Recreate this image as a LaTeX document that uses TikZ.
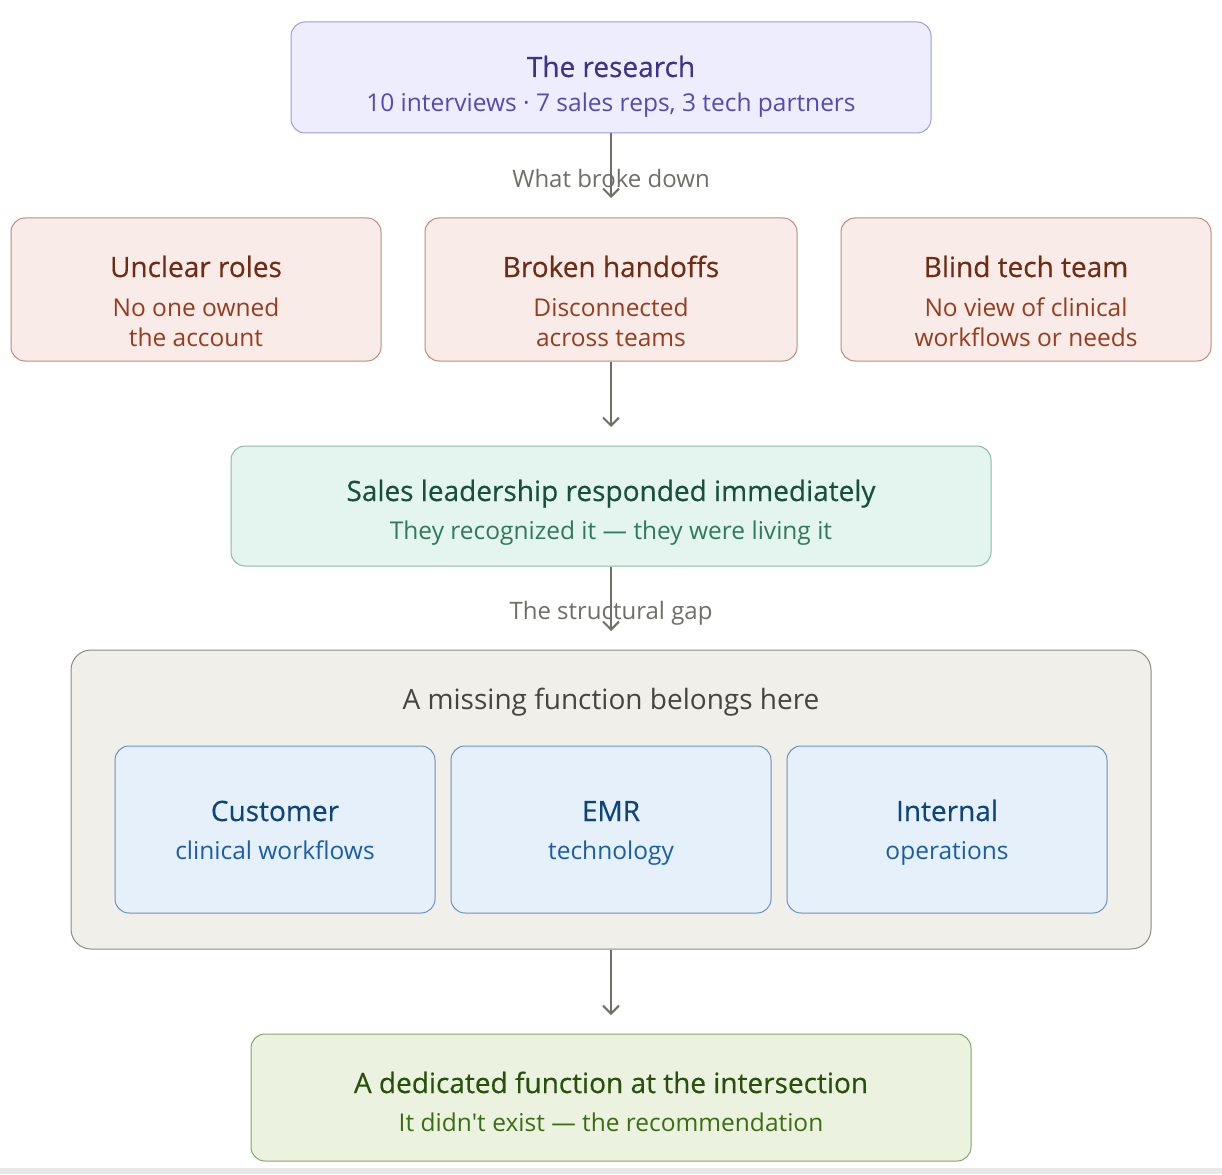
\documentclass[tikz,border=0pt]{standalone}
\usepackage{fontspec}
\setmainfont{Open Sans}
\newfontfamily\headfont[FakeBold=0.4]{Open Sans}
\usetikzlibrary{arrows.meta}
\definecolor{resfill}{HTML}{EEEDFE}
\definecolor{resline}{HTML}{9E9AE0}
\definecolor{reshead}{HTML}{3C3489}
\definecolor{restext}{HTML}{534AB7}
\definecolor{failfill}{HTML}{F9ECE8}
\definecolor{failline}{HTML}{C08A78}
\definecolor{failhead}{HTML}{712B13}
\definecolor{failtext}{HTML}{993C1D}
\definecolor{leadfill}{HTML}{E3F5EE}
\definecolor{leadline}{HTML}{8DB8A5}
\definecolor{leadhead}{HTML}{17503C}
\definecolor{leadtext}{HTML}{2F7A5E}
\definecolor{gapfill}{HTML}{F1EFEA}
\definecolor{gapline}{HTML}{8C8B86}
\definecolor{gaphead}{HTML}{444441}
\definecolor{areafill}{HTML}{E6F0FA}
\definecolor{arealine}{HTML}{6A90C6}
\definecolor{areahead}{HTML}{0C447C}
\definecolor{areatext}{HTML}{185FA5}
\definecolor{recfill}{HTML}{EBF3E0}
\definecolor{recline}{HTML}{86A564}
\definecolor{rechead}{HTML}{27500A}
\definecolor{rectext}{HTML}{3B6D11}
\definecolor{flow}{HTML}{6F6E69}
\tikzset{
  >={Straight Barb[length=8pt,width=16pt,line width=2pt]},
  card/.style={rounded corners=14pt,line width=1pt,inner sep=0pt},
  resbox/.style={card,draw=resline,fill=resfill},
  failbox/.style={card,draw=failline,fill=failfill,minimum width=370pt,minimum height=143pt},
  leadbox/.style={card,draw=leadline,fill=leadfill},
  gapbox/.style={card,rounded corners=20pt,draw=gapline,fill=gapfill},
  areabox/.style={card,draw=arealine,fill=areafill,minimum width=320pt,minimum height=167pt},
  recbox/.style={card,draw=recline,fill=recfill},
  ttl/.style={inner sep=0pt,text height=20pt,text depth=0pt,font=\headfont\fontsize{28}{34}\selectfont},
  note/.style={inner sep=0pt,text height=17.5pt,text depth=0pt,font=\fontsize{24.5}{30}\selectfont},
  twoline/.style={font=\fontsize{24.5}{30}\selectfont,align=center,inner sep=0pt},
  lab/.style={inner sep=0pt,text height=17pt,text depth=0pt,font=\fontsize{24}{30}\selectfont,text=flow},
  arr/.style={->,draw=flow,line width=2pt},
}
\begin{document}
\begin{tikzpicture}[x=1pt,y=-1pt]
\useasboundingbox[fill=white] (0,0) rectangle (1222,1174);
\fill[black!9] (0,1168) rectangle (1222,1174);
% research
\node[resbox,minimum width=640pt,minimum height=111pt] (res) at (611,77.5) {};
\node[ttl,text=reshead] (resh) at (611,67) {The research};
\node[note,text=restext] (rest) at (611,103) {10 interviews · 7 sales reps, 3 tech partners};
% what broke down
\node[failbox] (roles) at (196,289.5) {};
\node[failbox,minimum width=372pt] (hand) at (611,289.5) {};
\node[failbox] (blind) at (1026,289.5) {};
\node[ttl,text=failhead] (rolesh) at (196,267) {Unclear roles};
\node[ttl,text=failhead] (handh) at (611,267) {Broken handoffs};
\node[ttl,text=failhead] (blindh) at (1026,267) {Blind tech team};
\node[twoline,text=failtext] (rolest) at (196,322) {No one owned\\the account};
\node[twoline,text=failtext] (handt) at (611,322) {Disconnected\\across teams};
\node[twoline,text=failtext] (blindt) at (1026,322) {No view of clinical\\workflows or needs};
% leadership
\node[leadbox,minimum width=760pt,minimum height=120pt] (lead) at (611,506) {};
\node[ttl,text=leadhead] (leadh) at (611,491) {Sales leadership responded immediately};
\node[note,text=leadtext] (leadt) at (611,531) {They recognized it — they were living it};
% structural gap
\node[gapbox,minimum width=1080pt,minimum height=299pt] (gap) at (611,799.5) {};
\node[inner sep=0pt,text height=20pt,text depth=0pt,font=\fontsize{28}{34}\selectfont,text=gaphead] (gaph) at (611,699) {A missing function belongs here};
\node[areabox] (cust) at (275,829.5) {};
\node[areabox] (emr) at (611,829.5) {};
\node[areabox] (ops) at (947,829.5) {};
\node[ttl,text=areahead] (custh) at (275,811) {Customer};
\node[ttl,text=areahead] (emrh) at (611,811) {EMR};
\node[ttl,text=areahead] (opsh) at (947,811) {Internal};
\node[note,text=areatext] (custt) at (275,851) {clinical workflows};
\node[note,text=areatext] (emrt) at (611,851) {technology};
\node[note,text=areatext] (opst) at (947,851) {operations};
% recommendation
\node[recbox,minimum width=720pt,minimum height=127pt] (rec) at (611,1097.5) {};
\node[ttl,text=rechead] (rech) at (611,1083) {A dedicated function at the intersection};
\node[note,text=rectext] (rect) at (611,1123) {It didn\textquotesingle t exist — the recommendation};
% connectors
\coordinate (e1) at (611,198);
\coordinate (e2) at (611,427);
\coordinate (e3) at (611,631);
\coordinate (e4) at (611,1015);
\node[lab] (broke) at (611,179) {What broke down};
\node[lab] (gapl) at (611,611) {The structural gap};
\draw[arr] (res.south) -- (e1);
\draw[arr] (hand.south) -- (e2);
\draw[arr] (lead.south) -- (e3);
\draw[arr] (gap.south) -- (e4);
\end{tikzpicture}
\end{document}
